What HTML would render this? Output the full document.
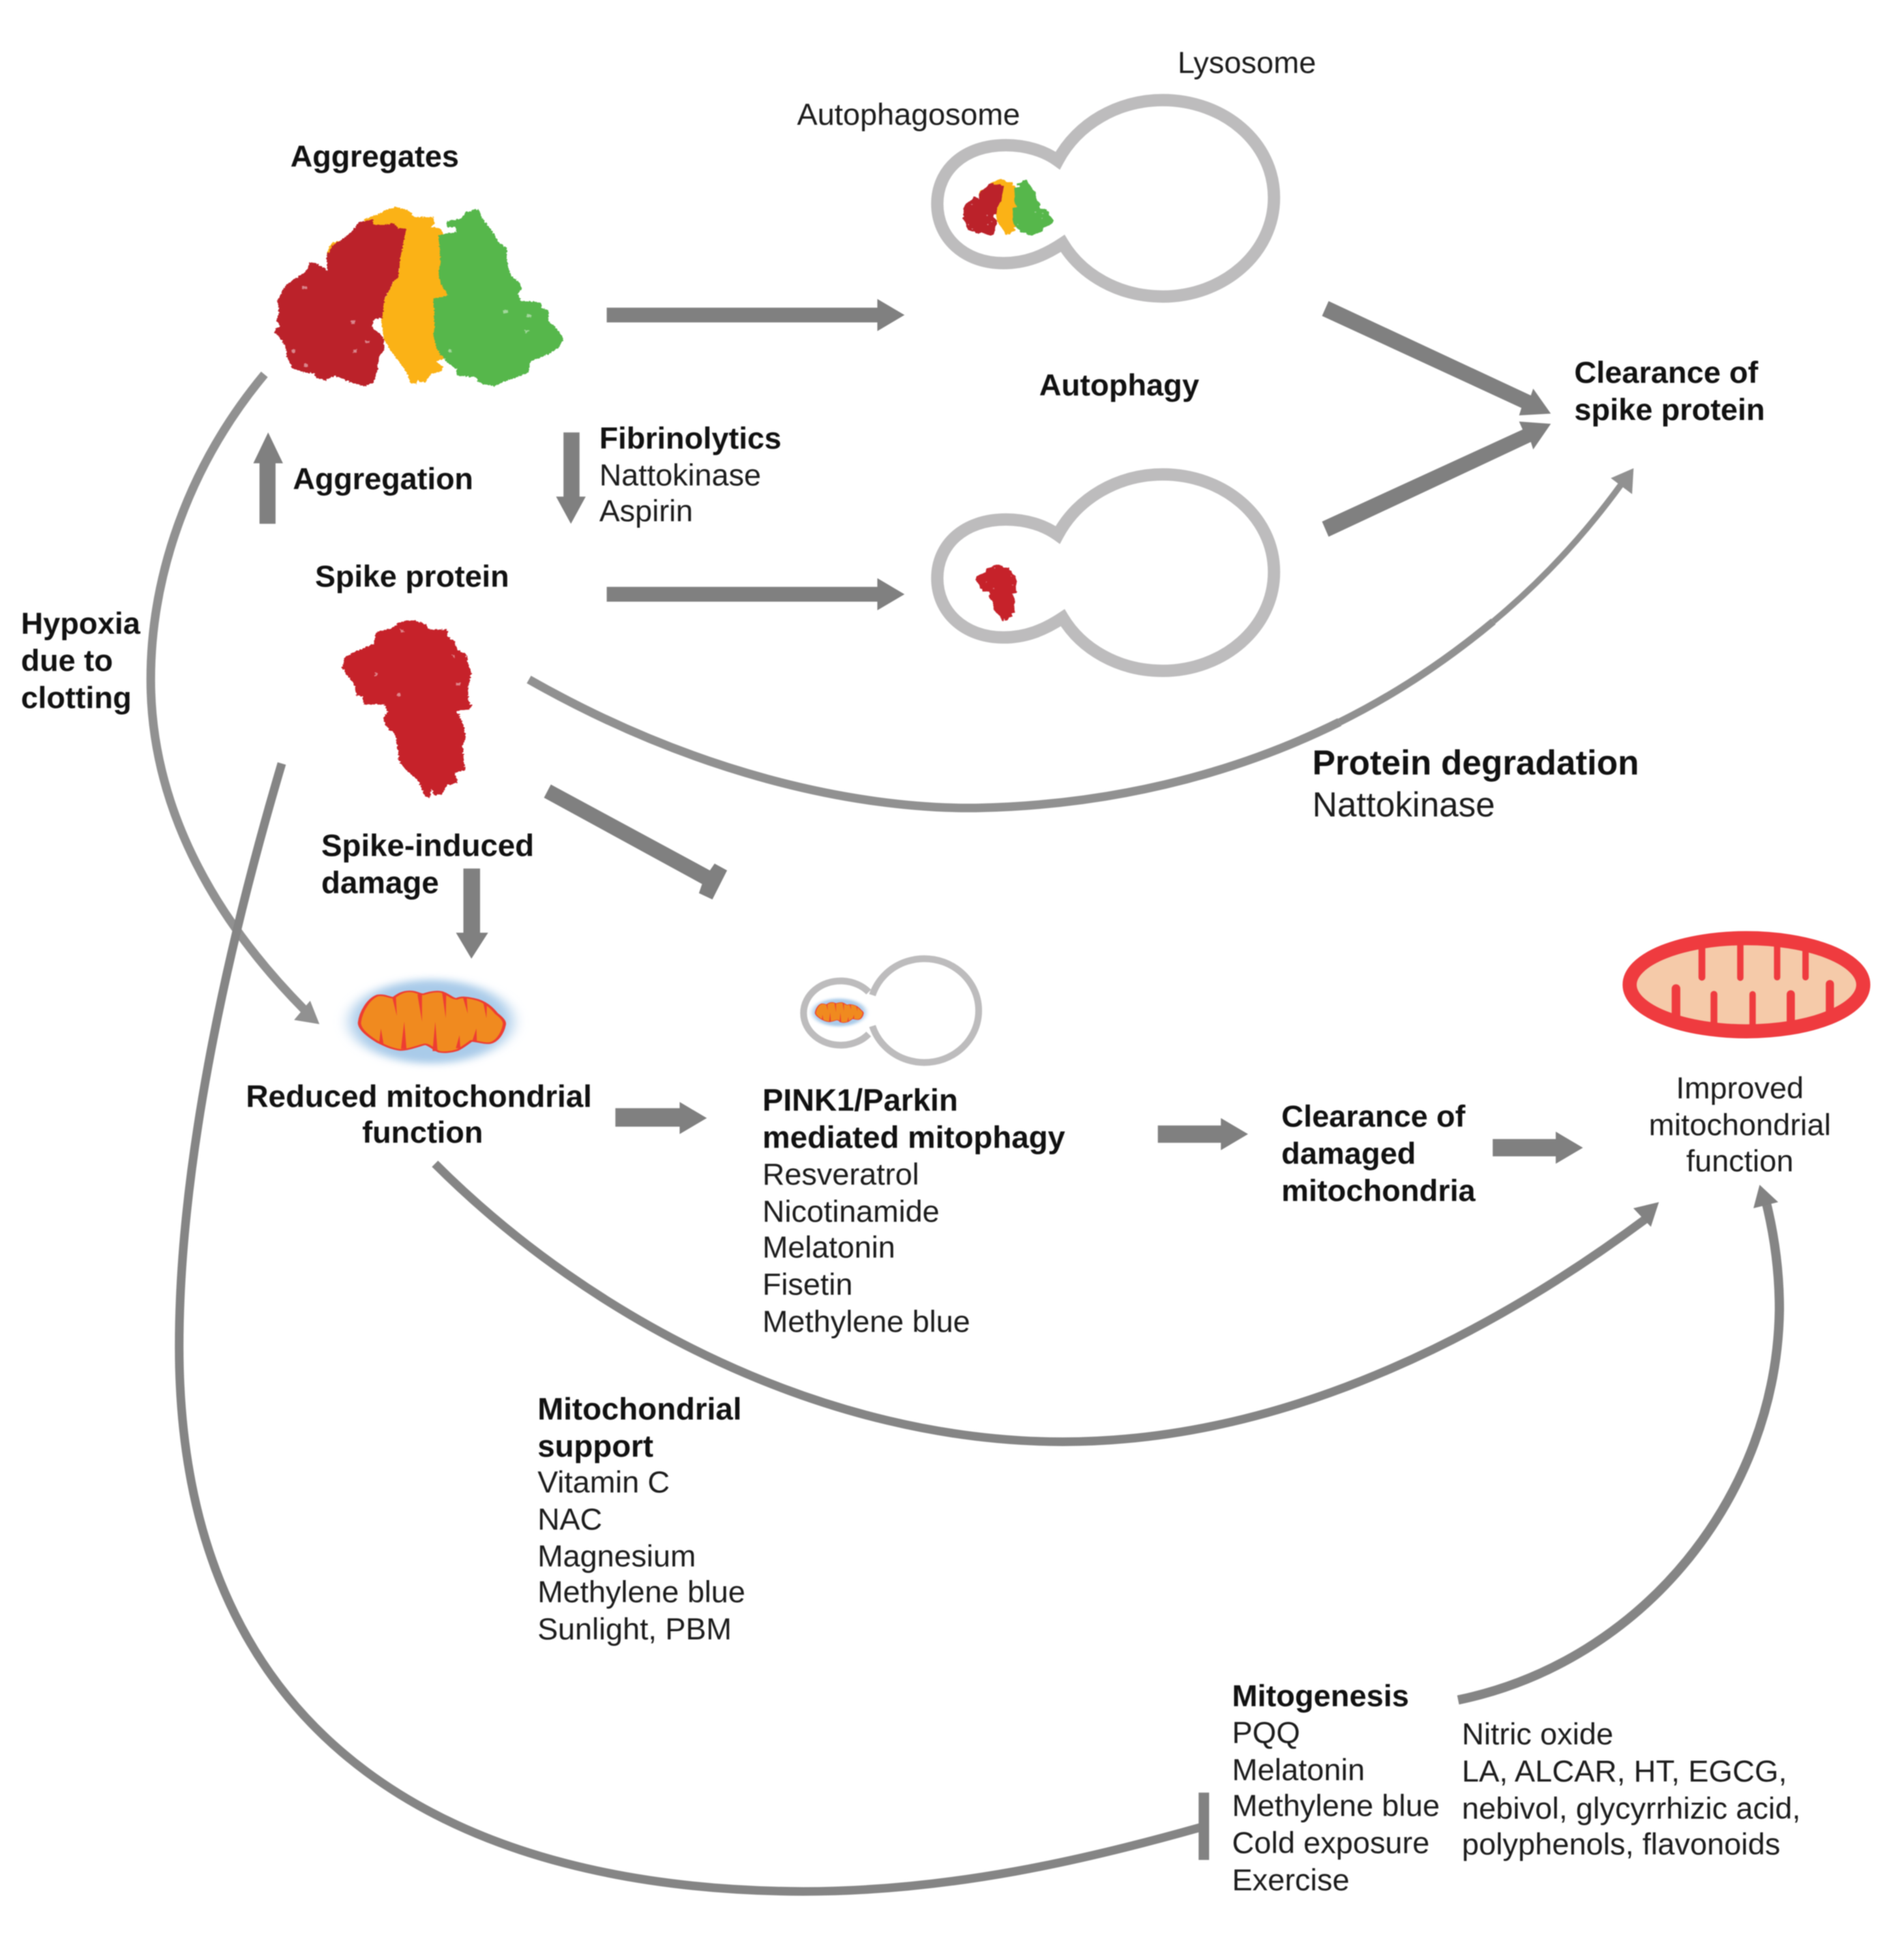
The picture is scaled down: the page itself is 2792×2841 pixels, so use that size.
<!DOCTYPE html>
<html>
<head>
<meta charset="utf-8">
<title>Spike protein clearance diagram</title>
<style>
html,body{margin:0;padding:0;background:#fff;width:2792px;height:2841px;overflow:hidden}
svg{display:block;filter:blur(0.7px)}
text{font-family:"Liberation Sans",Arial,sans-serif;font-size:24.8px;fill:#1c1c1c}
.b{font-weight:bold;fill:#111}
.w{font-size:25.2px}
</style>
</head>
<body>
<svg xmlns="http://www.w3.org/2000/svg" width="2792" height="2841" viewBox="0 0 2792 2841">
<defs>
<filter id="rough" x="-10%" y="-10%" width="120%" height="120%">
<feTurbulence type="fractalNoise" baseFrequency="0.13" numOctaves="1" seed="4"/>
<feDisplacementMap in="SourceGraphic" scale="14" xChannelSelector="R" yChannelSelector="G"/>
</filter>
<filter id="glowblur" x="-40%" y="-40%" width="180%" height="180%"><feGaussianBlur stdDeviation="16"/></filter>

<g id="aggr" filter="url(#rough)">
<polygon fill="#fbb216" points="515,215 550,200 580,190 600,175 645,160 700,178 720,205 800,205 805,235 790,250 830,255 860,320 860,400 860,450 860,510 880,545 840,555 830,600 830,680 830,730 835,780 855,825 810,840 840,865 830,885 785,900 770,930 745,935 735,920 730,940 705,935 690,890 650,830 620,790 597,745 585,650 590,580 620,525 640,480 660,440 640,260 520,240"/>
<polygon fill="#fbb216" points="370,340 385,318 420,308 430,340 375,385 362,378"/>
<polygon fill="#56b74b" points="935,180 955,180 960,175 985,170 1000,210 1040,265 1070,320 1100,340 1105,420 1120,465 1150,490 1165,520 1145,545 1160,575 1240,580 1245,605 1270,615 1275,665 1310,700 1335,740 1315,780 1270,810 1200,840 1190,890 1145,910 1100,925 1050,950 985,935 975,910 895,905 895,875 860,850 815,790 800,730 805,680 800,565 860,550 830,500 820,450 830,400 820,285 895,270 890,250 855,250 855,225 915,210"/>
<polygon fill="#bb212b" points="490,230 550,215 555,240 600,240 640,232 655,255 688,258 680,300 665,380 655,470 635,490 620,525 600,560 595,600 590,650 555,655 548,690 580,720 597,745 597,790 575,825 570,880 555,935 515,950 465,935 430,920 395,905 355,925 320,915 310,895 270,890 220,870 200,825 190,770 165,730 145,715 155,695 170,685 155,660 165,630 160,570 190,510 225,480 265,455 285,430 290,405 310,405 355,430 365,445 360,380 385,330 430,300 470,265"/>
<g fill="#fff" opacity=".45">
<rect x="462" y="660" width="16" height="16"/><rect x="520" y="750" width="18" height="10"/><rect x="470" y="788" width="16" height="16"/><rect x="260" y="510" width="20" height="12"/><rect x="1088" y="615" width="18" height="14"/><rect x="1184" y="633" width="18" height="14"/><rect x="1176" y="702" width="16" height="12"/><rect x="862" y="787" width="14" height="14"/><rect x="268" y="850" width="16" height="14"/><rect x="218" y="788" width="14" height="14"/>
</g>
</g>

<g id="spike" filter="url(#rough)">
<polygon fill="#c6202a" points="470,90 500,90 535,110 540,130 600,130 605,165 625,180 635,220 660,240 670,290 678,320 668,380 668,440 678,465 675,480 630,490 640,510 655,560 660,600 650,640 655,720 660,750 625,760 635,805 600,815 585,855 560,860 550,830 545,870 530,865 510,800 470,750 445,705 445,680 435,590 410,565 395,520 410,495 400,460 335,460 330,425 310,420 305,370 285,340 265,300 275,250 310,225 365,195 375,140 425,125 445,100"/>
<g fill="#fff" opacity=".45">
<rect x="440" y="410" width="10" height="14"/><rect x="370" y="322" width="8" height="14"/><rect x="628" y="366" width="14" height="10"/><rect x="452" y="130" width="10" height="10"/><rect x="618" y="240" width="8" height="14"/>
</g>
</g>

<g id="vac" fill="none" stroke="#bdbcbd" stroke-width="10" stroke-miterlimit="12">
<path d="M856 130 C872 100 905 81 941 81 C990 81 1031 115 1031 160 C1031 205 990 240 941 240 C905 240 875 222 860 197 C845 207 830 213 812 213 C780 213 758.5 192 758.5 165 C758.5 138 780 117.5 814 117.5 C830 117.5 845 122 856 130 Z"/>
</g>

<g id="dmito">
<ellipse cx="272" cy="445" rx="178" ry="185" fill="#a9cbe9" filter="url(#glowblur)"/>
<path fill="#f08a1f" stroke="#ee3d32" stroke-width="7" stroke-linejoin="round" d="M115 450 C118 400 135 345 155 330 C170 325 180 340 190 340 C200 325 210 312 225 312 C240 312 245 325 255 325 C270 315 285 310 295 315 C310 325 318 345 328 345 C338 335 350 338 365 345 C390 355 405 385 415 410 C428 430 434 445 432 460 C428 500 415 535 400 540 C385 542 370 530 360 530 C350 545 340 560 330 570 C315 580 300 582 290 578 C278 570 268 545 258 545 C240 555 220 570 205 570 C185 565 170 550 155 535 C135 510 115 480 115 450 Z"/>
<g fill="#ee3d32">
<polygon points="187,340 195,340 197,420"/>
<polygon points="242,325 252,325 252,445"/>
<polygon points="296,318 305,318 304,430"/>
<polygon points="342,342 350,342 352,410"/>
<polygon points="386,362 394,366 393,430"/>
<polygon points="158,540 168,545 162,475"/>
<polygon points="206,565 218,565 213,445"/>
<polygon points="275,575 286,575 281,445"/>
<polygon points="326,562 336,562 334,505"/>
<polygon points="362,530 372,530 371,475"/>
</g>
</g>
</defs>

<rect width="2792" height="2841" fill="#fff"/>

<!-- blobs -->
<use href="#aggr" transform="translate(350,250) scale(0.357,0.333)"/>
<use href="#aggr" transform="translate(1284,166.6) scale(0.316,0.316) translate(350,250) scale(0.357,0.333)"/>
<use href="#spike" transform="translate(380,880) scale(0.459,0.333)"/>
<use href="#spike" transform="translate(1270,537) scale(0.32,0.32) translate(380,880) scale(0.459,0.333)"/>

<!-- thick double arrows -->
<g transform="translate(1900,400) scale(0.3448,0.3333)" fill="#808080">
<polygon points="140,125 1000,540 1010,510 1085,620 950,628 960,595 112,190"/>
<polygon points="112,1095 965,690 950,655 1085,665 1010,778 1000,745 140,1162"/>
</g>
<!-- inhibit thick -->
<g transform="translate(380,880) scale(0.459,0.3333)" fill="#808080">
<polygon points="932,812 1440,1190 1455,1160 1495,1190 1448,1318 1405,1290 1415,1250 910,870"/>
</g>

<!-- healthy mitochondrion -->
<g transform="translate(2300,1330) scale(0.3333)">
<ellipse cx="783" cy="343" rx="514" ry="205" fill="#f5caa9" stroke="#ef3b3f" stroke-width="62"/>
<g stroke="#ef3b3f" fill="none" stroke-linecap="round">
<path d="M587 170V310" stroke-width="30"/>
<path d="M756 170V312" stroke-width="28"/>
<path d="M918 170V310" stroke-width="28"/>
<path d="M1043 170V310" stroke-width="28"/>
<path d="M473 360V490" stroke-width="38"/>
<path d="M640 385V520" stroke-width="30"/>
<path d="M810 385V525" stroke-width="28"/>
<path d="M978 385V510" stroke-width="36"/>
<path d="M1150 340V460" stroke-width="36"/>
</g>
</g>

<!-- damaged mitochondria -->
<g transform="translate(450,1350) scale(0.67,0.3333)">
<use href="#dmito"/>
<use href="#dmito" transform="translate(1075,258) scale(0.33)"/>
</g>

<g transform="scale(1.812)">
<!-- vacuoles -->
<use href="#vac"/>
<use href="#vac" transform="translate(0,303)"/>
<g fill="none" stroke="#bdbcbd" stroke-width="5.5">
<path d="M706 805.5 A44 42 0 1 1 706 830.5"/>
<path d="M703 803 A30 26 0 1 0 703 837"/>
</g>

<!-- straight arrows -->
<g fill="#808080">
<polygon points="491,249 710,249 710,242 732,255 710,268 710,261 491,261"/>
<polygon points="491,475 710,475 710,468 732,481 710,494 710,487 491,487"/>
<polygon points="456,350 469,350 469,402 474,402 462,424 450,402 456,402"/>
<polygon points="210,424 223,424 223,375 229,375 217,350 205,375 210,375"/>
<polygon points="375,703 388.5,703 388.5,755 395,755 381.5,776 369,755 375,755"/>
<polygon points="498,897 550,897 550,892 572,905 550,918 550,912 498,912"/>
<polygon points="937,911 988,911 988,905 1010,918 988,931 988,925 937,925"/>
<polygon points="1208,922 1259,922 1259,916 1281,929 1259,942 1259,936 1208,936"/>
</g>

<!-- curves -->
<g fill="none" stroke="#919191">
<path d="M1208.5 503 C1247 471 1281.5 434 1312 392" stroke-width="5"/>
<path d="M1084 584.5 C1128.5 562.5 1170 535 1208.5 503" stroke-width="6"/>
<path d="M428 550 C560 625 690 655 790 654 C895 652 995 628.5 1084 584.5" stroke-width="7"/>
<path d="M214 303 C150 380 122 470 122 550 C122 650 170 740 246 817" stroke-width="7"/>
</g>
<g fill="none" stroke="#858585">
<path d="M228 618 C180 780 145 950 145 1090 C145 1420 380 1530 650 1531 C770 1531 880 1505 972 1479" stroke-width="7"/>
<path d="M352 942 C480 1070 670 1167 860 1167 C1050 1167 1220 1070 1334 985" stroke-width="7"/>
<path d="M1180 1376 C1330 1345 1438 1210 1440 1060 C1440 1030 1436 1000 1429 972" stroke-width="7.5"/>
</g>
<g fill="#919191">
<polygon points="1322,379 1303.6,387 1320.8,400"/>
<polygon points="258.5,829 251,810 238,825.6"/>
</g>
<g fill="#828282">
<polygon points="1342.5,973 1321.8,978 1336,993"/>
<polygon points="1424,959 1439,973 1419,978"/>
<rect x="970" y="1451" width="8.5" height="54.5"/>
</g>

<!-- text -->
<text x="953" y="59">Lysosome</text>
<text x="645" y="101">Autophagosome</text>
<text class="b" x="235" y="135">Aggregates</text>
<text class="b" x="841" y="320">Autophagy</text>
<text class="b" x="1274" y="310">Clearance of</text>
<text class="b" x="1274" y="340">spike protein</text>
<text class="b" x="485" y="363">Fibrinolytics</text>
<text x="485" y="393">Nattokinase</text>
<text x="485" y="422">Aspirin</text>
<text class="b" x="237" y="396">Aggregation</text>
<text class="b" x="255" y="475">Spike protein</text>
<text class="b" x="17" y="513">Hypoxia</text>
<text class="b" x="17" y="543">due to</text>
<text class="b" x="17" y="573">clotting</text>
<text class="b" x="1062" y="627" style="font-size:28px">Protein degradation</text>
<text x="1062" y="661" style="font-size:28px">Nattokinase</text>
<text class="b w" x="260" y="693">Spike-induced</text>
<text class="b w" x="260" y="723">damage</text>
<text class="b w" x="339" y="896" text-anchor="middle">Reduced mitochondrial</text>
<text class="b" x="342" y="925" text-anchor="middle">function</text>
<text class="b w" x="617" y="899">PINK1/Parkin</text>
<text class="b w" x="617" y="929">mediated mitophagy</text>
<text x="617" y="959">Resveratrol</text>
<text x="617" y="989">Nicotinamide</text>
<text x="617" y="1018">Melatonin</text>
<text x="617" y="1048">Fisetin</text>
<text x="617" y="1078">Methylene blue</text>
<text class="b" x="1037" y="912">Clearance of</text>
<text class="b" x="1037" y="942">damaged</text>
<text class="b" x="1037" y="972">mitochondria</text>
<text x="1408" y="889" text-anchor="middle">Improved</text>
<text x="1408" y="919" text-anchor="middle">mitochondrial</text>
<text x="1408" y="948" text-anchor="middle">function</text>
<text class="b w" x="435" y="1149">Mitochondrial</text>
<text class="b w" x="435" y="1179">support</text>
<text x="435" y="1208">Vitamin C</text>
<text x="435" y="1238">NAC</text>
<text x="435" y="1268">Magnesium</text>
<text x="435" y="1297">Methylene blue</text>
<text x="435" y="1327">Sunlight, PBM</text>
<text class="b" x="997" y="1381">Mitogenesis</text>
<text x="997" y="1411">PQQ</text>
<text x="997" y="1441">Melatonin</text>
<text x="997" y="1470">Methylene blue</text>
<text x="997" y="1500">Cold exposure</text>
<text x="997" y="1530">Exercise</text>
<text x="1183" y="1412">Nitric oxide</text>
<text x="1183" y="1442">LA, ALCAR, HT, EGCG,</text>
<text x="1183" y="1472">nebivol, glycyrrhizic acid,</text>
<text x="1183" y="1501">polyphenols, flavonoids</text>
</g>
</svg>
</body>
</html>
